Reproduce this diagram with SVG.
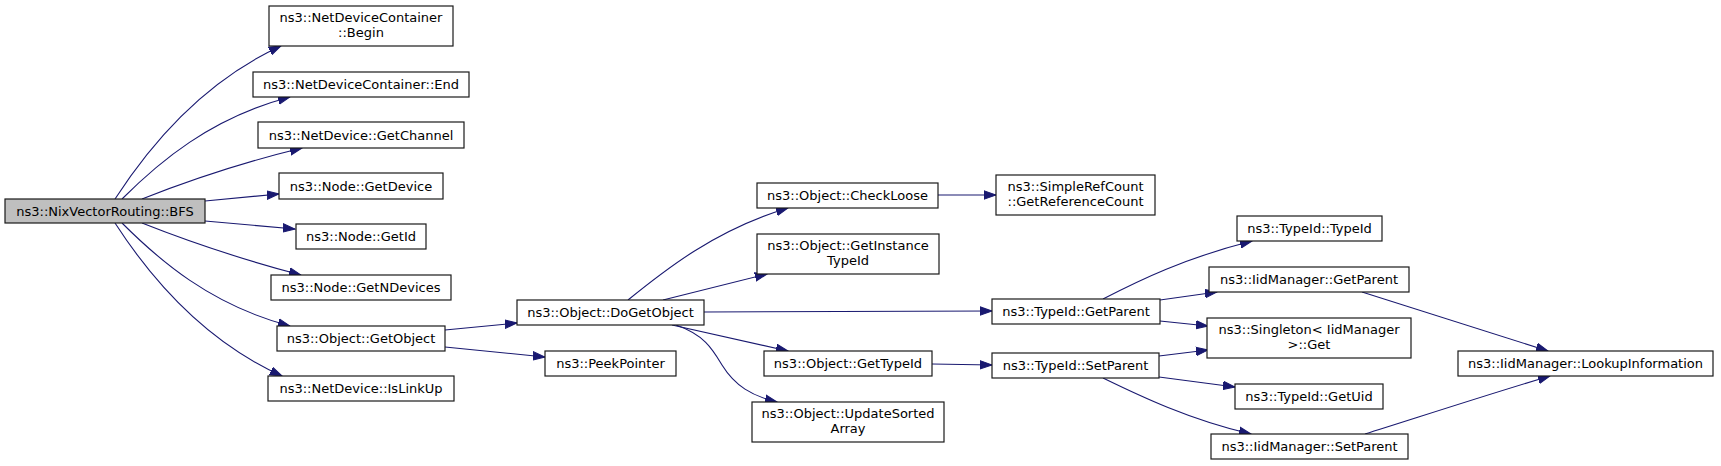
<svg xmlns="http://www.w3.org/2000/svg" width="1721" height="466" viewBox="0 0 1721 466">
<style>
.n rect{fill:#ffffff;stroke:#1a1a1a;stroke-width:1.2}
.n.root rect{fill:#bfbfbf}
.n text{font-family:"DejaVu Sans","Liberation Sans",sans-serif;font-size:13px;fill:#000000;text-anchor:middle}
.e path{fill:none;stroke:#191970;stroke-width:1.1}
</style>
<defs>
<marker id="ah" markerUnits="userSpaceOnUse" markerWidth="14" markerHeight="10" refX="12" refY="5" orient="auto">
<path d="M0,0.8 L12,5 L0,9.2 z" fill="#191970" stroke="#191970" stroke-width="1"/>
</marker>
</defs>
<rect width="1721" height="466" fill="#ffffff"/>
<g id="edges" class="e">
<path marker-end="url(#ah)" d="M115,199 C148,148 200,83 281,46"/>
<path marker-end="url(#ah)" d="M122,199 C158,163 210,118 290,97"/>
<path marker-end="url(#ah)" d="M142,199 C185,182 240,163 302,148"/>
<path marker-end="url(#ah)" d="M205,201 L279,194"/>
<path marker-end="url(#ah)" d="M205,221 L295,229"/>
<path marker-end="url(#ah)" d="M142,223 C185,240 240,259 301,275"/>
<path marker-end="url(#ah)" d="M122,223 C158,259 210,305 290,326"/>
<path marker-end="url(#ah)" d="M115,223 C148,274 200,339 282,376"/>
<path marker-end="url(#ah)" d="M445,330 L517,323"/>
<path marker-end="url(#ah)" d="M445,347 L545,357"/>
<path marker-end="url(#ah)" d="M628,300 C665,270 715,230 788,208"/>
<path marker-end="url(#ah)" d="M663,300 L767,274"/>
<path marker-end="url(#ah)" d="M704,312 L992,311"/>
<path marker-end="url(#ah)" d="M672,325 L788,351"/>
<path marker-end="url(#ah)" d="M676,325 C705,335 713,350 722,365 C735,386 752,396 777,402"/>
<path marker-end="url(#ah)" d="M938,195 L996,195"/>
<path marker-end="url(#ah)" d="M932,364 L992,365"/>
<path marker-end="url(#ah)" d="M1103,299 C1140,280 1185,258 1252,241"/>
<path marker-end="url(#ah)" d="M1160,300 L1217,292"/>
<path marker-end="url(#ah)" d="M1160,321 L1208,326"/>
<path marker-end="url(#ah)" d="M1159,356 L1208,350"/>
<path marker-end="url(#ah)" d="M1159,377 L1235,387"/>
<path marker-end="url(#ah)" d="M1103,378 C1140,396 1190,420 1251,434"/>
<path marker-end="url(#ah)" d="M1362,292 L1548,351"/>
<path marker-end="url(#ah)" d="M1365,434 C1410,420 1480,397 1550,376"/>
</g>
<g id="node-bfs" class="n root"><rect x="5" y="199" width="200" height="24"/><text x="105" y="215.5">ns3::NixVectorRouting::BFS</text></g>
<g id="node-ndc-begin" class="n"><rect x="269" y="6" width="184" height="40"/><text x="361" y="21.5">ns3::NetDeviceContainer</text><text x="361" y="36.5">::Begin</text></g>
<g id="node-ndc-end" class="n"><rect x="253" y="72" width="216" height="25"/><text x="361" y="89">ns3::NetDeviceContainer::End</text></g>
<g id="node-getchannel" class="n"><rect x="258" y="122" width="206" height="26"/><text x="361" y="139.5">ns3::NetDevice::GetChannel</text></g>
<g id="node-getdevice" class="n"><rect x="279" y="173" width="164" height="26"/><text x="361" y="190.5">ns3::Node::GetDevice</text></g>
<g id="node-getid" class="n"><rect x="296" y="224" width="130" height="25"/><text x="361" y="241">ns3::Node::GetId</text></g>
<g id="node-getndevices" class="n"><rect x="271" y="275" width="180" height="25"/><text x="361" y="292">ns3::Node::GetNDevices</text></g>
<g id="node-getobject" class="n"><rect x="277" y="326" width="168" height="25"/><text x="361" y="343">ns3::Object::GetObject</text></g>
<g id="node-islinkup" class="n"><rect x="268" y="376" width="186" height="25"/><text x="361" y="393">ns3::NetDevice::IsLinkUp</text></g>
<g id="node-dogetobject" class="n"><rect x="517" y="300" width="187" height="25"/><text x="610.5" y="317">ns3::Object::DoGetObject</text></g>
<g id="node-peekpointer" class="n"><rect x="545" y="351" width="131" height="25"/><text x="610.5" y="368">ns3::PeekPointer</text></g>
<g id="node-checkloose" class="n"><rect x="757" y="183" width="181" height="25"/><text x="847.5" y="200">ns3::Object::CheckLoose</text></g>
<g id="node-getinstancetypeid" class="n"><rect x="757" y="234" width="182" height="40"/><text x="848" y="250">ns3::Object::GetInstance</text><text x="848" y="265">TypeId</text></g>
<g id="node-gettypeid" class="n"><rect x="764" y="351" width="168" height="25"/><text x="848" y="368">ns3::Object::GetTypeId</text></g>
<g id="node-updatesortedarray" class="n"><rect x="752" y="402" width="192" height="40"/><text x="848" y="418">ns3::Object::UpdateSorted</text><text x="848" y="433">Array</text></g>
<g id="node-simplerefcount" class="n"><rect x="996" y="175" width="159" height="40"/><text x="1075.5" y="191">ns3::SimpleRefCount</text><text x="1075.5" y="206">::GetReferenceCount</text></g>
<g id="node-typeid-getparent" class="n"><rect x="992" y="299" width="168" height="25"/><text x="1076" y="316">ns3::TypeId::GetParent</text></g>
<g id="node-typeid-setparent" class="n"><rect x="992" y="353" width="167" height="25"/><text x="1075.5" y="370">ns3::TypeId::SetParent</text></g>
<g id="node-typeid-typeid" class="n"><rect x="1237" y="216" width="145" height="25"/><text x="1309.5" y="233">ns3::TypeId::TypeId</text></g>
<g id="node-iid-getparent" class="n"><rect x="1209" y="267" width="200" height="25"/><text x="1309" y="284">ns3::IidManager::GetParent</text></g>
<g id="node-singleton-get" class="n"><rect x="1207" y="318" width="204" height="40"/><text x="1309" y="334">ns3::Singleton&lt; IidManager</text><text x="1309" y="349">&gt;::Get</text></g>
<g id="node-typeid-getuid" class="n"><rect x="1235" y="384" width="148" height="25"/><text x="1309" y="401">ns3::TypeId::GetUid</text></g>
<g id="node-iid-setparent" class="n"><rect x="1211" y="434" width="197" height="25"/><text x="1309.5" y="451">ns3::IidManager::SetParent</text></g>
<g id="node-iid-lookup" class="n"><rect x="1458" y="351" width="255" height="25"/><text x="1585.5" y="368">ns3::IidManager::LookupInformation</text></g>
</svg>
